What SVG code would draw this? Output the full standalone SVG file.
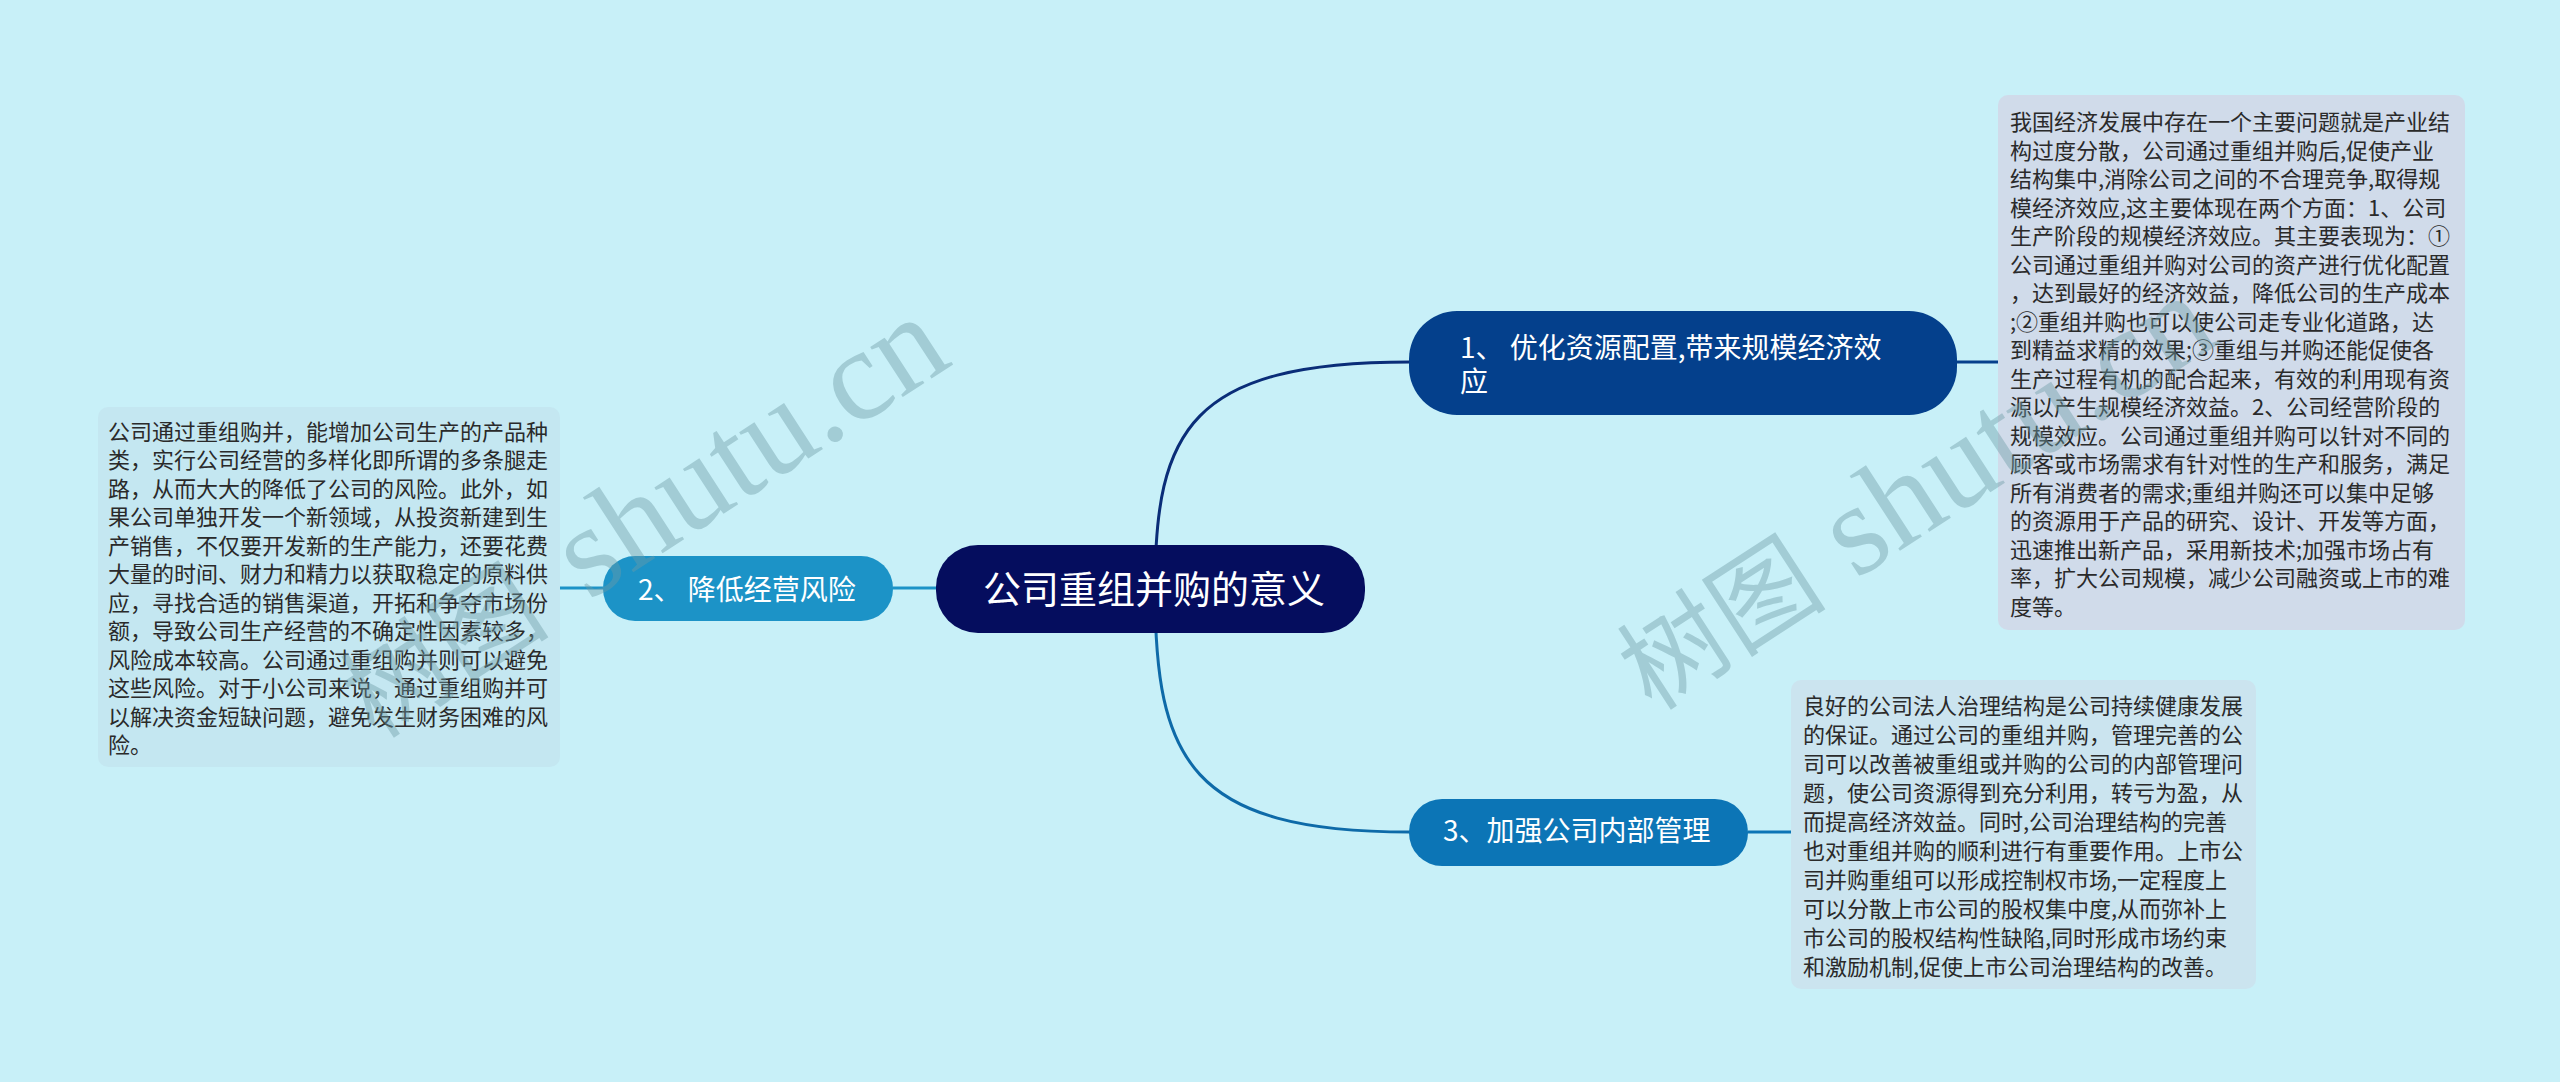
<svg xmlns="http://www.w3.org/2000/svg" width="2560" height="1082" viewBox="0 0 2560 1082">
<style>
.cjk{font-family:"Noto Sans CJK SC","Noto Sans",sans-serif}
.node-t{fill:#ffffff;font-size:28px}
.root-t{fill:#ffffff;font-size:38px}
.box-t{fill:#2a2a2a;font-size:22px}
.conn{fill:none;stroke-width:3}
.wm{font-family:"Liberation Serif","Noto Sans CJK SC",serif;fill:#6e9ca6;opacity:0.42}
</style>
<rect width="2560" height="1082" fill="#c8f0f8"/>

<g id="connectors">
  <path class="conn" stroke="#0a2d78" d="M1155,589 C1155,430 1190,362 1410,362"/>
  <path class="conn" stroke="#0e6aa8" d="M1155,589 C1155,760 1190,832 1410,832"/>
  <line class="conn" stroke="#1c93c7" x1="893" y1="588" x2="936" y2="588"/>
  <line class="conn" stroke="#1c93c7" x1="560" y1="588" x2="603" y2="588"/>
  <line class="conn" stroke="#06408c" x1="1957" y1="362" x2="1998" y2="362"/>
  <line class="conn" stroke="#0c75b6" x1="1748" y1="832" x2="1791" y2="832"/>
</g>

<g id="root">
  <rect x="936" y="545" width="429" height="88" rx="42" fill="#050d5e"/>
  <text class="cjk root-t" x="983" y="603">公司重组并购的意义</text>
</g>

<g id="node1">
  <rect x="1409" y="311" width="548" height="104" rx="48" fill="#04408c"/>
  <text class="cjk node-t" x="1460" y="358">1、 优化资源配置,带来规模经济效<tspan x="1460" y="392">应</tspan></text>
</g>

<g id="node2">
  <rect x="603" y="556" width="290" height="65" rx="32" fill="#1c93c7"/>
  <text class="cjk node-t" x="638" y="600">2、 降低经营风险</text>
</g>

<g id="node3">
  <rect x="1409" y="799" width="339" height="67" rx="33" fill="#0c75b6"/>
  <text class="cjk node-t" x="1443" y="841">3、加强公司内部管理</text>
</g>

<g id="box1">
  <rect x="1998" y="95" width="467" height="535" rx="10" fill="#d0dbea"/>
  <text class="cjk box-t" x="2010" y="130">
    <tspan x="2010" y="130">我国经济发展中存在一个主要问题就是产业结</tspan>
    <tspan x="2010" dy="28.5">构过度分散，公司通过重组并购后,促使产业</tspan>
    <tspan x="2010" dy="28.5">结构集中,消除公司之间的不合理竞争,取得规</tspan>
    <tspan x="2010" dy="28.5">模经济效应,这主要体现在两个方面：1、公司</tspan>
    <tspan x="2010" dy="28.5">生产阶段的规模经济效应。其主要表现为：①</tspan>
    <tspan x="2010" dy="28.5">公司通过重组并购对公司的资产进行优化配置</tspan>
    <tspan x="2010" dy="28.5">，达到最好的经济效益，降低公司的生产成本</tspan>
    <tspan x="2010" dy="28.5">;②重组并购也可以使公司走专业化道路，达</tspan>
    <tspan x="2010" dy="28.5">到精益求精的效果;③重组与并购还能促使各</tspan>
    <tspan x="2010" dy="28.5">生产过程有机的配合起来，有效的利用现有资</tspan>
    <tspan x="2010" dy="28.5">源以产生规模经济效益。2、公司经营阶段的</tspan>
    <tspan x="2010" dy="28.5">规模效应。公司通过重组并购可以针对不同的</tspan>
    <tspan x="2010" dy="28.5">顾客或市场需求有针对性的生产和服务，满足</tspan>
    <tspan x="2010" dy="28.5">所有消费者的需求;重组并购还可以集中足够</tspan>
    <tspan x="2010" dy="28.5">的资源用于产品的研究、设计、开发等方面，</tspan>
    <tspan x="2010" dy="28.5">迅速推出新产品，采用新技术;加强市场占有</tspan>
    <tspan x="2010" dy="28.5">率，扩大公司规模，减少公司融资或上市的难</tspan>
    <tspan x="2010" dy="28.5">度等。</tspan>
  </text>
</g>

<g id="box2">
  <rect x="98" y="407" width="462" height="360" rx="10" fill="#c4e7f1"/>
  <text class="cjk box-t" x="108" y="440">
    <tspan x="108" y="440">公司通过重组购并，能增加公司生产的产品种</tspan>
    <tspan x="108" dy="28.45">类，实行公司经营的多样化即所谓的多条腿走</tspan>
    <tspan x="108" dy="28.45">路，从而大大的降低了公司的风险。此外，如</tspan>
    <tspan x="108" dy="28.45">果公司单独开发一个新领域，从投资新建到生</tspan>
    <tspan x="108" dy="28.45">产销售，不仅要开发新的生产能力，还要花费</tspan>
    <tspan x="108" dy="28.45">大量的时间、财力和精力以获取稳定的原料供</tspan>
    <tspan x="108" dy="28.45">应，寻找合适的销售渠道，开拓和争夺市场份</tspan>
    <tspan x="108" dy="28.45">额，导致公司生产经营的不确定性因素较多，</tspan>
    <tspan x="108" dy="28.45">风险成本较高。公司通过重组购并则可以避免</tspan>
    <tspan x="108" dy="28.45">这些风险。对于小公司来说，通过重组购并可</tspan>
    <tspan x="108" dy="28.45">以解决资金短缺问题，避免发生财务困难的风</tspan>
    <tspan x="108" dy="28.45">险。</tspan>
  </text>
</g>

<g id="box3">
  <rect x="1791" y="680" width="465" height="309" rx="10" fill="#cbe4ef"/>
  <text class="cjk box-t" x="1803" y="714">
    <tspan x="1803" y="714">良好的公司法人治理结构是公司持续健康发展</tspan>
    <tspan x="1803" dy="29">的保证。通过公司的重组并购，管理完善的公</tspan>
    <tspan x="1803" dy="29">司可以改善被重组或并购的公司的内部管理问</tspan>
    <tspan x="1803" dy="29">题，使公司资源得到充分利用，转亏为盈，从</tspan>
    <tspan x="1803" dy="29">而提高经济效益。同时,公司治理结构的完善</tspan>
    <tspan x="1803" dy="29">也对重组并购的顺利进行有重要作用。上市公</tspan>
    <tspan x="1803" dy="29">司并购重组可以形成控制权市场,一定程度上</tspan>
    <tspan x="1803" dy="29">可以分散上市公司的股权集中度,从而弥补上</tspan>
    <tspan x="1803" dy="29">市公司的股权结构性缺陷,同时形成市场约束</tspan>
    <tspan x="1803" dy="29">和激励机制,促使上市公司治理结构的改善。</tspan>
  </text>
</g>

<g id="watermarks">
  <text class="wm" transform="translate(375,740) rotate(-33)"><tspan font-size="105">树图</tspan><tspan font-size="130" dx="12"> shutu.cn</tspan></text>
  <text class="wm" transform="translate(1652,712) rotate(-33)"><tspan font-size="105">树图</tspan><tspan font-size="130"> shutu.cn</tspan></text>
</g>
</svg>
